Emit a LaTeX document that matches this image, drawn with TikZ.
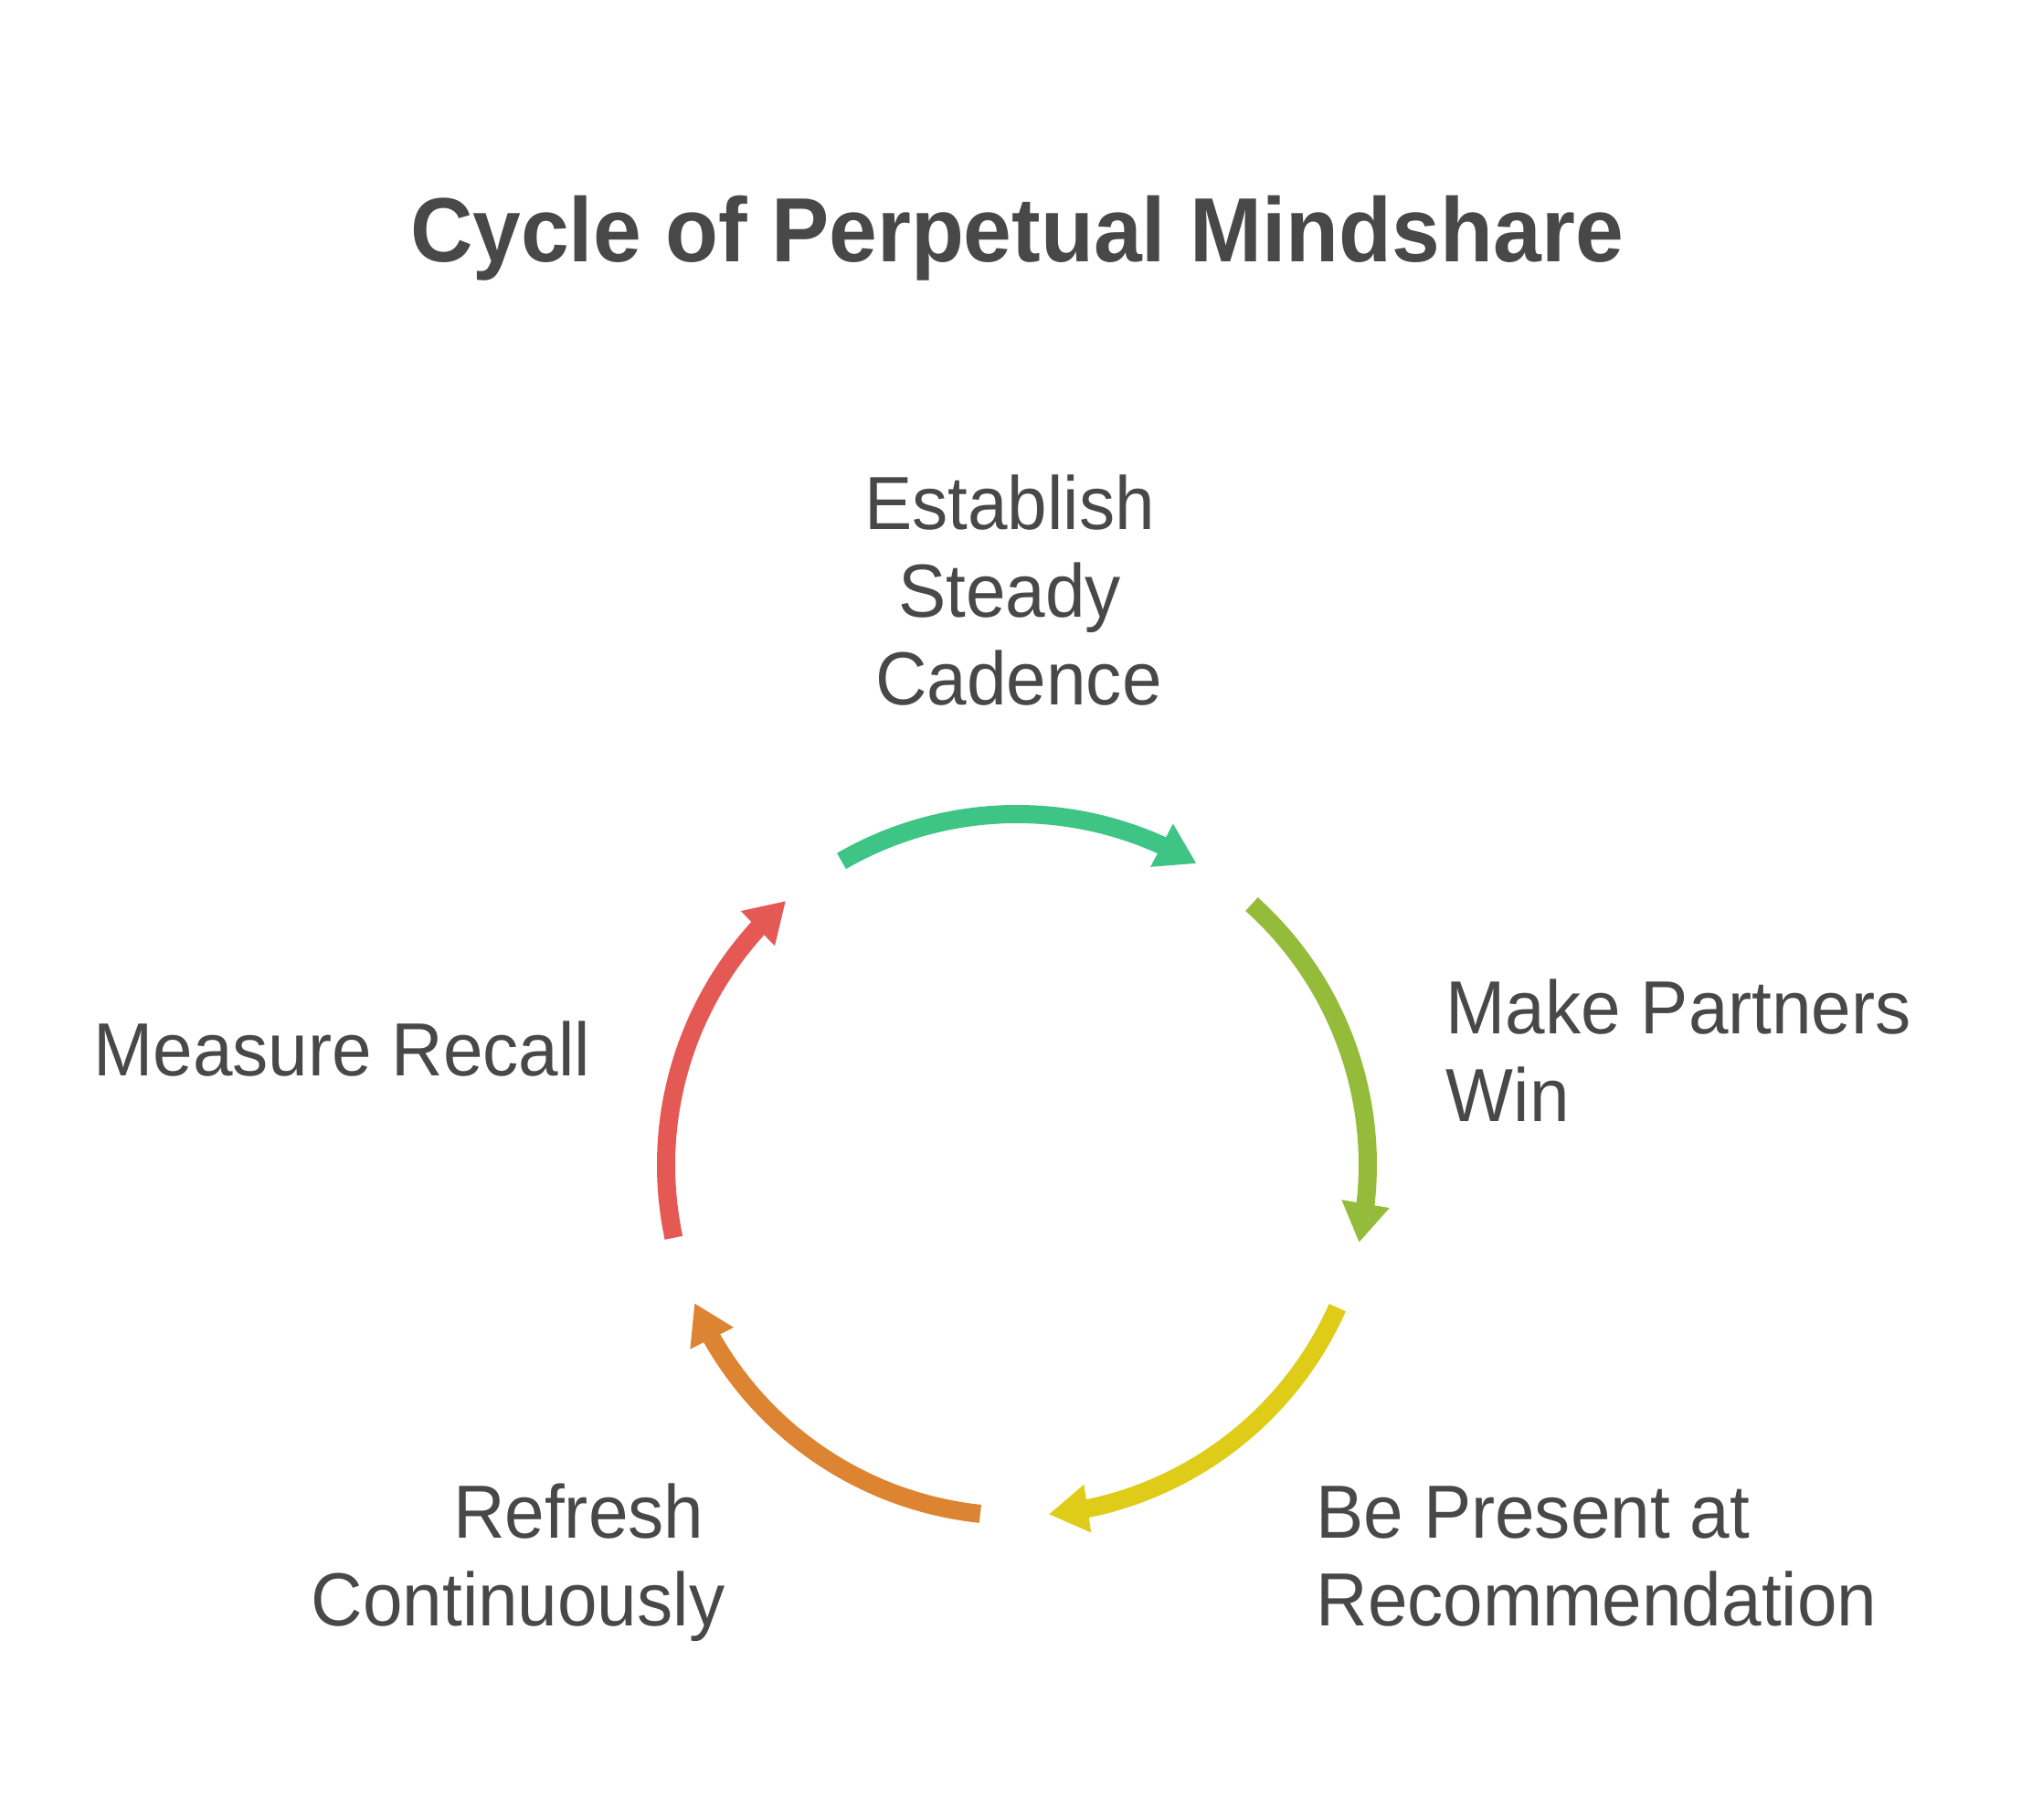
\documentclass[tikz,border=0pt]{standalone}
\usepackage{fontspec}
\setmainfont{Liberation Sans}[FakeStretch=0.95]
\usetikzlibrary{arrows.meta,bending}
\definecolor{txt}{HTML}{484848}
\definecolor{cgreen}{HTML}{3EC586}
\definecolor{colive}{HTML}{94BC3A}
\definecolor{cyellow}{HTML}{DECC18}
\definecolor{corange}{HTML}{DD8432}
\definecolor{cred}{HTML}{E55955}
\begin{document}
\begin{tikzpicture}[
  cyc/.style={line width=0.2cm, -{Triangle[length=0.43cm,width=0.5cm]}},
  lbl/.style={text=txt, font=\fontsize{23.45}{27.4}\selectfont, inner sep=0pt},
  ttl/.style={text=txt, font=\bfseries\fontsize{28.4}{34}\selectfont, inner sep=0pt}
]
\useasboundingbox (0,0) rectangle (22.24,19.92);
\coordinate (C) at (11.13,7.17);
\node[ttl, anchor=base] (title) at (11.13,17.05) {Cycle of Perpetual Mindshare};

% multi-line nodes: base anchor = baseline of the last line
\node[lbl, anchor=base, align=center] (s1) at (11.05,12.20) {Establish\\Steady\\\hspace*{0.2cm}Cadence};
\node[lbl, anchor=base west, align=left] (s2) at (15.82,7.64) {Make Partners\\Win};
\node[lbl, anchor=base west, align=left] (s3) at (14.40,2.12) {Be Present at\\Recommendation};
\node[lbl, anchor=base east, align=right] (s4) at (7.94,2.12) {Refresh\hspace*{0.23cm}\\Continuously};
\node[lbl, anchor=base east] (s5) at (6.47,8.14) {Measure Recall};

\draw[cyc, cgreen]  ([shift={(120:3.84)}]C) arc[start angle=120, end angle=59.2, radius=3.84];
\draw[cyc, colive]  ([shift={(48:3.84)}]C) arc[start angle=48, end angle=-12.8, radius=3.84];
\draw[cyc, cyellow] ([shift={(-24:3.84)}]C) arc[start angle=-24, end angle=-84.8, radius=3.84];
\draw[cyc, corange] ([shift={(-96:3.84)}]C) arc[start angle=-96, end angle=-156.8, radius=3.84];
\draw[cyc, cred]    ([shift={(-168:3.84)}]C) arc[start angle=-168, end angle=-228.8, radius=3.84];
\end{tikzpicture}
\end{document}
